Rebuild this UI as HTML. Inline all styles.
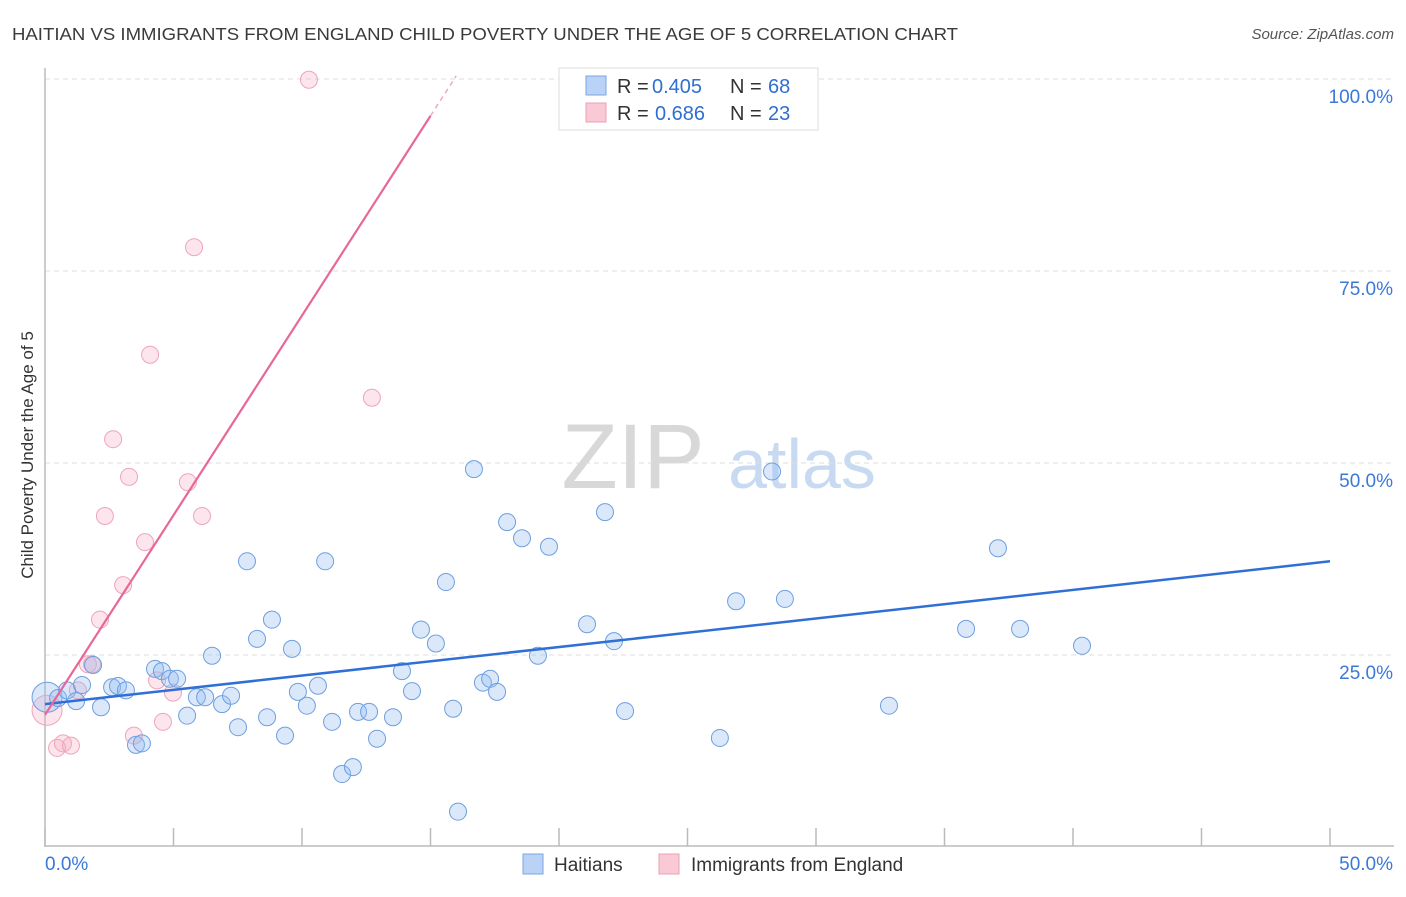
<!DOCTYPE html>
<html><head><meta charset="utf-8"><style>
body{margin:0;background:#fff;font-family:"Liberation Sans",sans-serif}
svg text{font-family:"Liberation Sans",sans-serif}
</style></head><body>
<svg id="chart" width="1406" height="892" viewBox="0 0 1406 892">
<text x="12" y="40" font-size="17.5" fill="#3a3a3a" textLength="946" lengthAdjust="spacingAndGlyphs">HAITIAN VS IMMIGRANTS FROM ENGLAND CHILD POVERTY UNDER THE AGE OF 5 CORRELATION CHART</text>
<text x="1394" y="39" font-size="15" fill="#555" text-anchor="end" font-style="italic">Source: ZipAtlas.com</text>
<g>
<text x="633" y="488" font-size="92" fill="#d8d8d8" text-anchor="middle" font-family="Liberation Serif">ZIP</text>
<text x="802" y="488" font-size="70" fill="#c8daf2" text-anchor="middle">atlas</text>
</g>
<g id="grid"></g>
<g id="axes"></g>
<g id="marks"></g>
<text transform="translate(33,455) rotate(-90)" font-size="17" fill="#333" text-anchor="middle">Child Poverty Under the Age of 5</text>
<g>
<rect x="559" y="68" width="259" height="62" fill="#fff" stroke="#ddd"/>
<rect x="586" y="76" width="20" height="19" fill="#b9d2f5" stroke="#7aa6e0"/>
<rect x="586" y="103" width="20" height="19" fill="#f9c9d6" stroke="#eba0b6"/>
<text x="617" y="93" font-size="20" fill="#333">R =</text>
<text x="652" y="93" font-size="20" fill="#2f6fd0">0.405</text>
<text x="730" y="93" font-size="20" fill="#333">N =</text>
<text x="768" y="93" font-size="20" fill="#2f6fd0">68</text>
<text x="617" y="120" font-size="20" fill="#333">R =</text>
<text x="655" y="120" font-size="20" fill="#2f6fd0">0.686</text>
<text x="730" y="120" font-size="20" fill="#333">N =</text>
<text x="768" y="120" font-size="20" fill="#2f6fd0">23</text>
</g>
<g>
<rect x="523" y="854" width="20" height="20" fill="#b9d2f5" stroke="#7aa6e0"/>
<text x="554" y="871" font-size="19" fill="#333">Haitians</text>
<rect x="659" y="854" width="20" height="20" fill="#f9c9d6" stroke="#eba0b6"/>
<text x="691" y="871" font-size="19" fill="#333">Immigrants from England</text>
</g>
</svg>
<script>
const blueX=[0.08,0.51,0.86,1.21,1.44,1.87,2.18,2.61,2.84,3.15,3.54,3.77,4.28,4.55,4.86,5.14,5.53,5.91,6.23,6.50,6.89,7.24,7.51,7.86,8.25,8.64,8.83,9.34,9.61,9.84,10.19,10.62,10.90,11.17,11.56,11.98,12.18,12.61,12.92,13.54,13.89,14.28,14.63,15.21,15.60,15.88,16.07,16.69,17.04,17.32,17.59,17.98,18.56,19.18,19.61,21.09,21.79,22.14,22.57,26.26,26.89,28.29,28.79,32.84,35.84,37.08,37.94,40.35];
const blueY=[19.5,19.4,20.4,19.0,21.1,23.7,18.2,20.8,20.96,20.4,13.3,13.5,23.2,22.9,21.9,21.9,17.1,19.5,19.5,24.9,18.6,19.7,15.6,37.2,27.1,16.9,29.6,14.5,25.8,20.2,18.4,21.0,37.2,16.3,9.5,10.4,17.6,17.6,14.1,16.9,22.9,20.3,28.3,26.5,34.5,18.0,4.6,49.2,21.4,21.9,20.2,42.3,40.2,24.9,39.1,29.0,43.6,26.8,17.7,14.2,32.0,48.9,32.3,18.4,28.4,38.9,28.4,26.2];
const pinkX=[0.08,0.47,0.70,1.01,1.28,1.67,1.83,2.14,2.33,2.65,3.04,3.27,3.46,3.89,4.09,4.36,4.59,4.98,5.56,5.80,6.11,10.27,12.72];
const pinkY=[17.8,12.9,13.5,13.2,20.4,23.8,23.8,29.6,43.1,53.1,34.1,48.2,14.5,39.7,64.1,21.7,16.3,20.1,47.5,78.1,43.1,99.9,58.5];
const blueTrend=[18.6,0.372];
const pinkTrend=[17.2,5.2];
const yTicks=[25,50,75,100];
const xTickLabels=["0.0%","50.0%"];
const NS="http://www.w3.org/2000/svg";
const sx=v=>45+v*(1285/50);
const sy=v=>847-v*7.68;
function mk(tag,attrs,parent){const e=document.createElementNS(NS,tag);for(const k in attrs)e.setAttribute(k,attrs[k]);document.getElementById(parent).appendChild(e);return e;}
yTicks.forEach(t=>{
 const l=mk('line',{x1:45,x2:1394,y1:sy(t),y2:sy(t),stroke:'#ddd','stroke-dasharray':'5,4'},'grid');
 
 
 const tx=mk('text',{x:1393,y:sy(t)+24,'font-size':19,fill:'#3b78d8','text-anchor':'end'},'grid');
 tx.textContent=t.toFixed(1)+'%';
 
 
});
let a=mk('line',{x1:45,x2:45,y1:68,y2:847,stroke:'#bbb','stroke-width':1.5},'axes');


a=mk('line',{x1:45,x2:1394,y1:846,y2:846,stroke:'#bbb','stroke-width':1.5},'axes');


for(let i=0;i<=50;i+=5){const t=mk('line',{x1:sx(i),x2:sx(i),y1:828,y2:846,stroke:'#bbb','stroke-width':1.5},'axes');
 
 }
let xl=mk('text',{x:45,y:870,'font-size':19,fill:'#3b78d8'},'axes');xl.textContent=xTickLabels[0];


xl=mk('text',{x:1393,y:870,'font-size':19,fill:'#3b78d8','text-anchor':'end'},'axes');xl.textContent=xTickLabels[1];


function pts(X,Y,fill,stroke,name){X.forEach((x,i)=>{const c=mk('circle',{cx:sx(x),cy:sy(Y[i]),r:i===0?15:8.5,fill:fill,stroke:stroke,'stroke-width':1},'marks');
 
 });}
pts(pinkX,pinkY,'rgba(246,170,192,0.3)','#eea5bb','england-point');
pts(blueX,blueY,'rgba(150,190,240,0.35)','#6d9fe0','haitian-point');
let tl=mk('line',{x1:sx(0),y1:sy(blueTrend[0]),x2:sx(50),y2:sy(blueTrend[0]+blueTrend[1]*50),stroke:'#2f6fd6','stroke-width':2.5},'marks');


tl=mk('line',{x1:sx(0),y1:sy(pinkTrend[0]),x2:sx(15),y2:sy(pinkTrend[0]+pinkTrend[1]*15),stroke:'#e8679a','stroke-width':2.2},'marks');


tl=mk('line',{x1:sx(15),y1:sy(pinkTrend[0]+pinkTrend[1]*15),x2:sx(16),y2:sy(pinkTrend[0]+pinkTrend[1]*16),stroke:'#f0a8c0','stroke-width':1.5,'stroke-dasharray':'5,4'},'marks');


</script>
</body></html>
